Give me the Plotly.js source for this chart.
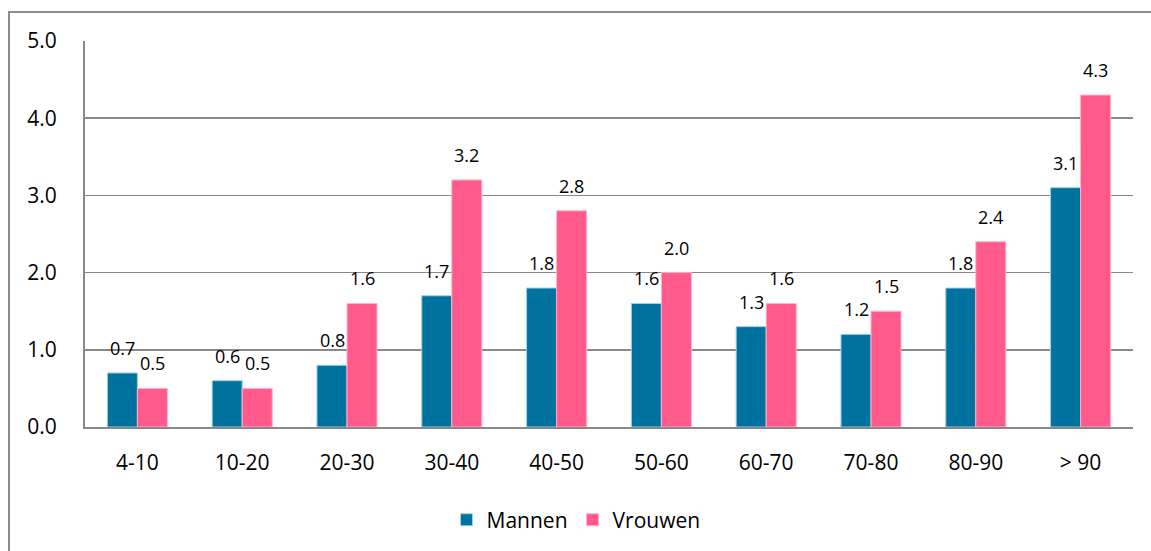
<!DOCTYPE html>
<html>
<head>
<meta charset="utf-8">
<script src="https://cdn.plot.ly/plotly-3.0.1.min.js"></script>
<style>
  body { margin: 0; background: #fff; overflow: hidden; }
  #frame {
    position: absolute; left: 8px; top: 11px;
    border-left: 2px solid #8c8c8c; border-top: 2px solid #8c8c8c;
    width: 1141px; height: 538px;
  }
  #display { width: 1141px; height: 538px; }
</style>
</head>
<body>
<div id="frame"><div id="display"></div></div>
<script>
// leeftijdsgroepen en waarden per geslacht
let groepen = ['4-10','10-20','20-30','30-40','40-50','50-60','60-70','70-80','80-90','> 90'];
let mannen = [0.7, 0.6, 0.8, 1.7, 1.8, 1.6, 1.3, 1.2, 1.8, 3.1];
let vrouwen = [0.5, 0.5, 1.6, 3.2, 2.8, 2.0, 1.6, 1.5, 2.4, 4.3];

let blauw = '#00729f';
let roze = '#ff5a8b';
let font = 'Open Sans, Noto Sans, sans-serif';

let traces = [
  {
    type:'bar', name:'Mannen', x:groepen, y:mannen,
    marker:{color:blauw, line:{color:'#9fd0e6', width:1}},
    hoverinfo:'none'
  },
  {
    type:'bar', name:'Vrouwen', x:groepen, y:vrouwen,
    marker:{color:roze, line:{color:'#ffb3c8', width:1}},
    hoverinfo:'none'
  }
];

// labels boven de staven
let labels = [];
function addLabels(vals, shift){
  for(var i=0;i<groepen.length;i++){
    labels.push({
      x:groepen[i], y:vals[i], xref:'x', yref:'y',
      text:vals[i].toFixed(1), showarrow:false,
      xshift:shift, yshift:25, yanchor:'middle',
      font:{family:font, size:18, color:'#000'}
    });
  }
}
addLabels(mannen, -15);
addLabels(vrouwen, 15);

let layout = {
  width:1141, height:538,
  margin:{l:75, r:18, t:28, b:123},
  paper_bgcolor:'#fff', plot_bgcolor:'#fff',
  font:{family:font, size:21, color:'#000'},
  barmode:'group', bargap:0.427, bargroupgap:0,
  showlegend:true,
  legend:{orientation:'h', x:0.345, xanchor:'left', y:-0.238, yanchor:'middle',
          font:{family:font, size:21, color:'#000'}, traceorder:'normal'},
  xaxis:{
    type:'category', showline:true, linecolor:'#888', linewidth:2,
    showgrid:false, ticks:'', ticklabelstandoff:16,
    tickfont:{family:font, size:21, color:'#000'}
  },
  yaxis:{
    range:[0,5], dtick:1, tickformat:'.1f',
    showline:true, linecolor:'#888', linewidth:2,
    showgrid:true, gridcolor:'#888', gridwidth:1.5,
    zeroline:false, ticks:'', ticklabelstandoff:22,
    tickfont:{family:font, size:21, color:'#000'}
  },
  annotations:labels
};

Plotly.newPlot('display', traces, layout, {staticPlot:true});
</script>
</body>
</html>
